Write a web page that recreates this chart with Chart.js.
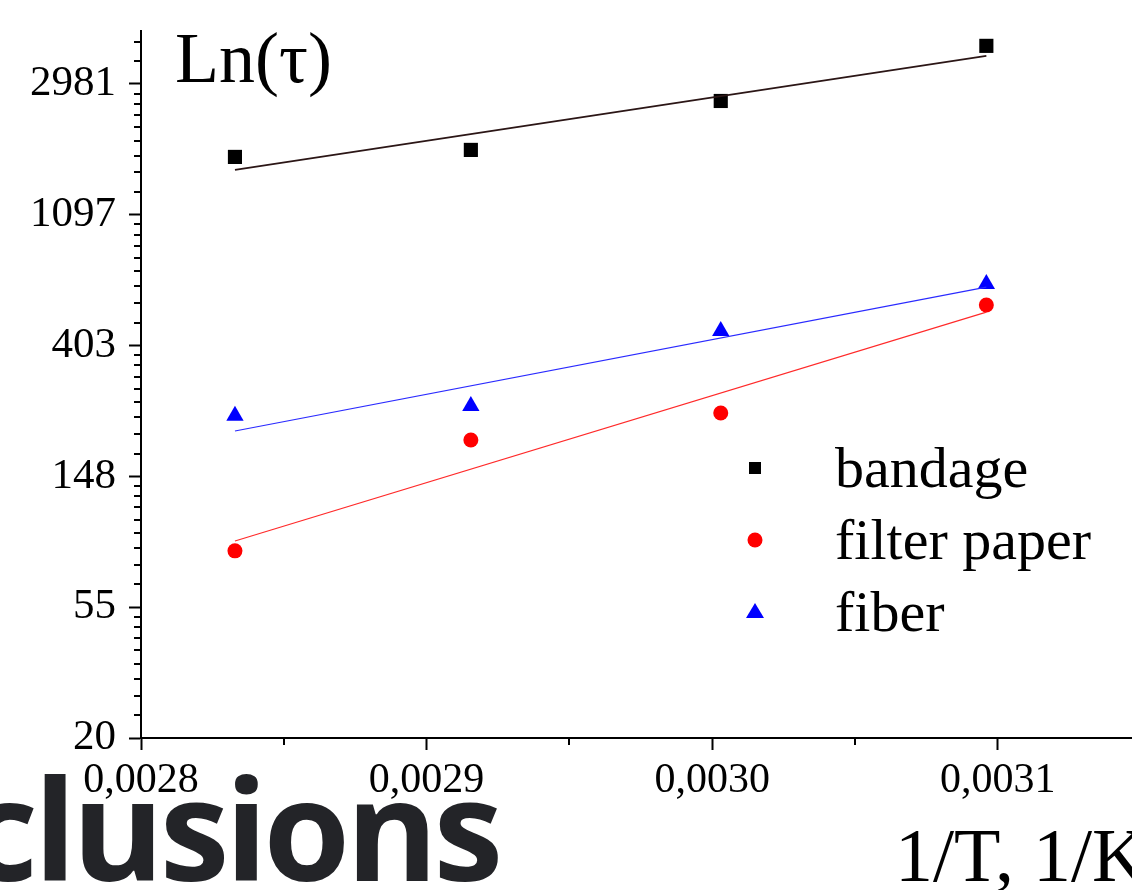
<!DOCTYPE html>
<html>
<head>
<meta charset="utf-8">
<script src="https://cdn.jsdelivr.net/npm/chart.js@4.4.0/dist/chart.umd.min.js"></script>
<style>
  html, body { margin: 0; padding: 0; background: #fff; overflow: hidden; }
  #wrap { position: relative; width: 1132px; height: 890px; overflow: hidden; }
  #chart { position: absolute; left: 0; top: 0; }
  .txt { position: absolute; white-space: nowrap; font-family: "Liberation Serif", "Times New Roman", serif; color: #000; }
  #ylab { left: 175px; top: 22px; font-size: 72px; line-height: 1; }
  #xlab { left: 895px; top: 817px; font-size: 76px; line-height: 1; }
  #slide { left: -34px; top: 757px; font-family: "Open Sans", sans-serif; font-weight: 700; font-size: 140px; line-height: 1; color: #232428; letter-spacing: -4.3px; }
</style>
</head>
<body>
<div id="wrap">
  <canvas id="chart" width="1132" height="890"></canvas>
  <div class="txt" id="slide">clusions</div>
  <div class="txt" id="ylab">Ln(τ)</div>
  <div class="txt" id="xlab">1/T, 1/K</div>
</div>
<script>
// 1/T values (1/K) for 80, 70, 60, 50 °C
const invT = [0.0028329, 0.0029155, 0.0030030, 0.0030960];

const bandage     = [1707, 1801, 2618, 3990];
const filterPaper = [84, 196, 241, 550];
const fiber       = [236, 254, 451, 646];

// fitted lines, read at the first and last x
const fitX        = [0.0028329, 0.0030960];
const bandageFit  = [1546, 3697];
const filterFit   = [90.6, 521];
const fiberFit    = [210, 631];

const seriesNames = ["bandage", "filter paper", "fiber"];

const xTicks      = [0.0028, 0.0029, 0.0030, 0.0031];
const xTickLabels = ["0,0028", "0,0029", "0,0030", "0,0031"];
const yTicks      = [20.0855, 54.598, 148.413, 403.429, 1096.63, 2980.96];
const yTickLabels = ["20", "55", "148", "403", "1097", "2981"];

const serif = "'Liberation Serif', 'Times New Roman', serif";

function pts(xs, ys) {
  return xs.map((x, i) => ({ x: x, y: ys[i] }));
}

// small minor ticks: 8 per major step on y, one mid tick on x
const minorTicks = {
  id: "minorTicks",
  afterDraw(chart) {
    const { ctx, chartArea, scales } = chart;
    ctx.save();
    ctx.strokeStyle = "#000";
    ctx.lineWidth = 2;
    const ys = scales.y;
    const yVals = yTicks.concat([8103.08]);
    for (let i = 0; i < yVals.length - 1; i++) {
      const a = yVals[i], b = yVals[i + 1];
      for (let k = 1; k < 9; k++) {
        const v = a + k * (b - a) / 9;
        if (v > ys.max) break;
        const py = Math.round(ys.getPixelForValue(v));
        ctx.beginPath();
        ctx.moveTo(chartArea.left - 7, py);
        ctx.lineTo(chartArea.left, py);
        ctx.stroke();
      }
    }
    const xs = scales.x;
    for (let i = 0; i < xTicks.length; i++) {
      const v = xTicks[i] + 0.00005;
      if (v > xs.max) break;
      const px = Math.round(xs.getPixelForValue(v));
      ctx.beginPath();
      ctx.moveTo(px, chartArea.bottom);
      ctx.lineTo(px, chartArea.bottom + 7);
      ctx.stroke();
    }
    ctx.restore();
  }
};

const legendBox = {
  id: "legendBox",
  afterDraw(chart) {
    const ctx = chart.ctx;
    ctx.save();
    const mx = 755, tx = 835;
    const rows = [468, 540, 612];
    const colors = ["#000000", "#ff0000", "#0000ff"];
    ctx.font = "58px " + serif;
    ctx.textBaseline = "alphabetic";
    ctx.textAlign = "left";
    rows.forEach((cy, i) => {
      ctx.fillStyle = colors[i];
      ctx.beginPath();
      if (i === 0) {
        ctx.rect(mx - 6, cy - 6, 12, 12);
      } else if (i === 1) {
        ctx.arc(mx, cy, 7.5, 0, Math.PI * 2);
      } else {
        ctx.moveTo(mx, cy - 9);
        ctx.lineTo(mx + 9, cy + 6);
        ctx.lineTo(mx - 9, cy + 6);
        ctx.closePath();
      }
      ctx.fill();
      ctx.fillStyle = "#000";
      ctx.fillText(seriesNames[i], tx, cy + 19);
    });
    ctx.restore();
  }
};

new Chart(document.getElementById("chart"), {
  type: "scatter",
  data: {
    datasets: [
      {
        label: seriesNames[0] + " fit",
        data: pts(fitX, bandageFit),
        showLine: true, borderColor: "#2b1616", borderWidth: 1.6, pointRadius: 0
      },
      {
        label: seriesNames[1] + " fit",
        data: pts(fitX, filterFit),
        showLine: true, borderColor: "#ff2a2a", borderWidth: 1.2, pointRadius: 0
      },
      {
        label: seriesNames[2] + " fit",
        data: pts(fitX, fiberFit),
        showLine: true, borderColor: "#2a2aff", borderWidth: 1.2, pointRadius: 0
      },
      {
        label: seriesNames[0],
        data: pts(invT, bandage),
        pointStyle: "rect", pointRadius: 10,
        backgroundColor: "#000", borderColor: "#000", borderWidth: 0
      },
      {
        label: seriesNames[1],
        data: pts(invT, filterPaper),
        pointStyle: "circle", pointRadius: 7.5,
        backgroundColor: "#ff0000", borderColor: "#ff0000", borderWidth: 0
      },
      {
        label: seriesNames[2],
        data: pts(invT, fiber),
        pointStyle: "triangle", pointRadius: 10,
        backgroundColor: "#0000ff", borderColor: "#0000ff", borderWidth: 0
      }
    ]
  },
  plugins: [minorTicks, legendBox],
  options: {
    responsive: false,
    animation: false,
    layout: { autoPadding: false, padding: { top: 31, right: 0, left: 0, bottom: 0 } },
    plugins: {
      legend: { display: false },
      tooltip: { enabled: false }
    },
    scales: {
      x: {
        type: "linear",
        position: "bottom",
        min: 0.0028,
        max: 0.003147,
        afterBuildTicks: (s) => { s.ticks = xTicks.map(v => ({ value: v })); },
        afterFit: (s) => { s.height = 152; s.paddingLeft = 0; s.paddingRight = 0; },
        ticks: {
          color: "#000",
          font: { family: serif, size: 42 },
          padding: 6,
          maxRotation: 0,
          callback: (v, i) => xTickLabels[i]
        },
        grid: {
          drawOnChartArea: false, drawTicks: true,
          tickLength: 12, tickWidth: 2, tickColor: "#000"
        },
        border: { display: true, color: "#000", width: 2 }
      },
      y: {
        type: "logarithmic",
        min: 20.0855,
        max: 4470,
        afterBuildTicks: (s) => { s.ticks = yTicks.map(v => ({ value: v })); },
        afterFit: (s) => { s.width = 141; s.paddingTop = 0; s.paddingBottom = 0; },
        ticks: {
          color: "#000",
          font: { family: serif, size: 43 },
          padding: 13,
          callback: (v, i) => yTickLabels[i]
        },
        grid: {
          drawOnChartArea: false, drawTicks: true,
          tickLength: 12, tickWidth: 2, tickColor: "#000"
        },
        border: { display: true, color: "#000", width: 2 }
      }
    }
  }
});
</script>
</body>
</html>
